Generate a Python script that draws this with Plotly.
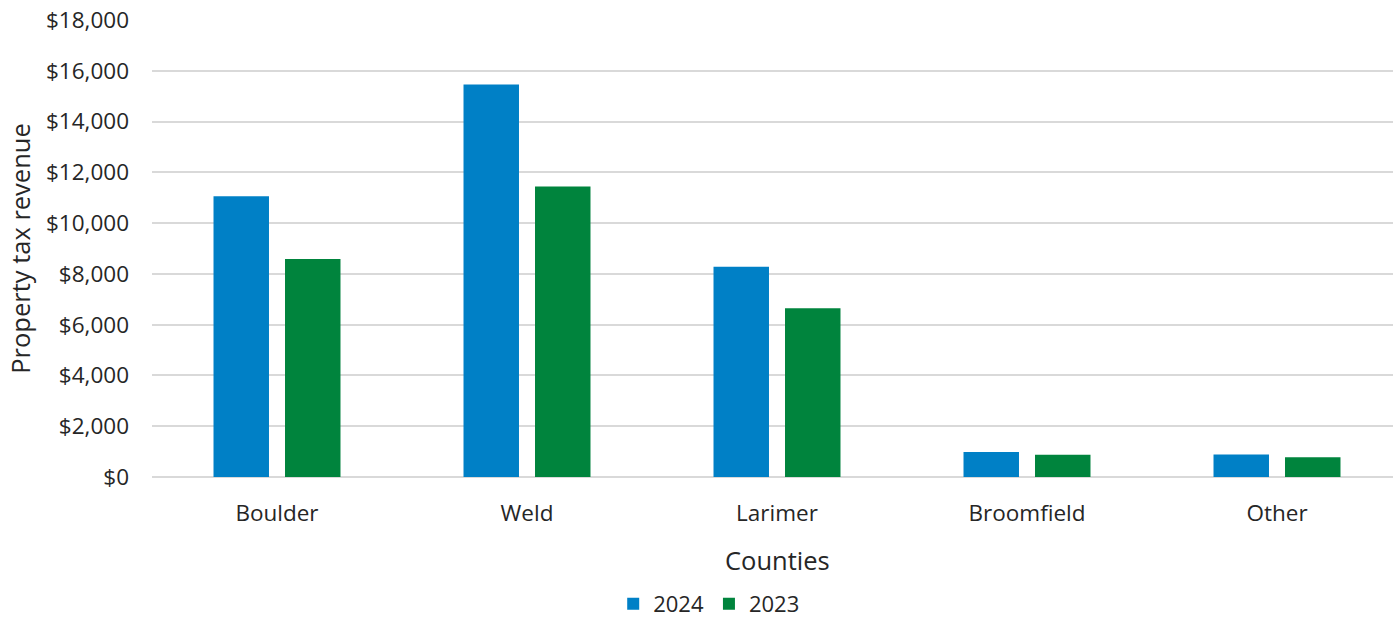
import plotly.graph_objects as go

counties = ["Boulder", "Weld", "Larimer", "Broomfield", "Other"]
rev_2024 = [11060, 15460, 8280, 985, 890]
rev_2023 = [8590, 11440, 6650, 875, 775]
y_ticks = [0, 2000, 4000, 6000, 8000, 10000, 12000, 14000, 16000, 18000]
y_tick_text = ["$" + format(v, ",") for v in y_ticks]

BLUE = "#0080C6"
GREEN = "#00843D"
FONT = "Open Sans"

fig = go.Figure()
fig.add_trace(go.Bar(name="2024", x=counties, y=rev_2024, marker=dict(color=BLUE, line=dict(width=0))))
fig.add_trace(go.Bar(name="2023", x=counties, y=rev_2023, marker=dict(color=GREEN, line=dict(width=0))))

fig.update_layout(
    width=1393, height=620,
    margin=dict(l=152, r=0, t=20, b=143, autoexpand=False),
    plot_bgcolor="white", paper_bgcolor="white",
    barmode="group", bargap=0.428, bargroupgap=0.224,
    font=dict(family=FONT, color="#262626", size=22),
    showlegend=True,
    legend=dict(orientation="h", x=0.449, xanchor="center", y=-0.324, yanchor="bottom",
                font=dict(size=22, family=FONT), itemwidth=30, traceorder="normal",
                bgcolor="rgba(0,0,0,0)"),
    annotations=[dict(text="Counties", xref="x", yref="paper", x=2, y=-0.182,
                      xanchor="center", yanchor="middle", showarrow=False,
                      font=dict(size=25.5, family=FONT, color="#262626"))],
)
fig.update_xaxes(range=[-0.5, 4.464], showgrid=False, showline=False, zeroline=False,
                 ticks="", tickfont=dict(size=22.5), ticklabelstandoff=20)
fig.update_yaxes(range=[0, 18000], tickvals=y_ticks, ticktext=y_tick_text,
                 showgrid=True, gridcolor="#d9d9d9", gridwidth=1.5,
                 zeroline=True, zerolinecolor="#d9d9d9", zerolinewidth=1.5,
                 showline=False, ticks="", tickfont=dict(size=22.5), ticklabelstandoff=22,
                 title=dict(text="Property tax revenue", font=dict(size=25.5), standoff=8))

fig.write_html("out.html")
